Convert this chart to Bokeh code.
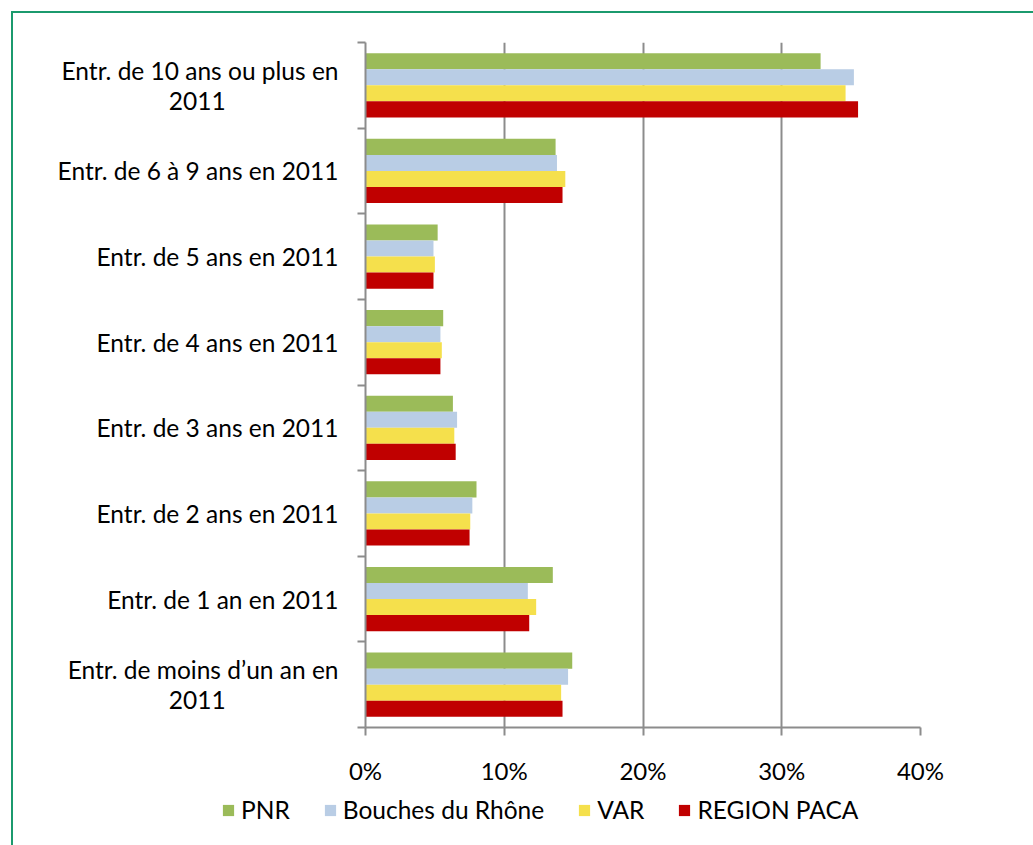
from bokeh.plotting import figure
from bokeh.layouts import column
from bokeh.models import ColumnDataSource, FixedTicker, Legend, LegendItem
from bokeh.transform import dodge
from bokeh.embed import file_html
from bokeh.resources import INLINE

NBSP = "\u00a0"

# Categories, listed from top to bottom as drawn (the long ones wrap onto two lines)
categories = [
    ("Entr. de 10 ans ou plus en", "2011"),
    ("Entr. de 6 à 9 ans en 2011",),
    ("Entr. de 5 ans en 2011",),
    ("Entr. de 4 ans en 2011",),
    ("Entr. de 3 ans en 2011",),
    ("Entr. de 2 ans en 2011",),
    ("Entr. de 1 an en 2011",),
    ("Entr. de moins d’un an en", "2011"),
]

# Share of households (%) by moving-in period
pnr = [32.8, 13.7, 5.2, 5.6, 6.3, 8.0, 13.5, 14.9]
bouches_du_rhone = [35.2, 13.8, 4.9, 5.4, 6.6, 7.7, 11.7, 14.6]
var = [34.6, 14.4, 5.0, 5.5, 6.4, 7.55, 12.3, 14.1]
region_paca = [35.5, 14.2, 4.9, 5.4, 6.5, 7.5, 11.8, 14.2]

series_names = ["PNR", "Bouches du Rhône", "VAR", "REGION PACA"]
series_values = [pnr, bouches_du_rhone, var, region_paca]
series_colors = ["#9BBB59", "#B9CDE5", "#F5E04C", "#C00000"]

x_ticks = [0, 10, 20, 30, 40]
x_tick_labels = ["0%", "10%", "20%", "30%", "40%"]

FONT = "Lato"
FONT_SIZE = "24.5px"
GRID = "#8C8C8C"
FRAME_GREEN = "#1B9A6D"
WRAP_PAD = 18  # non-breaking spaces that centre a wrapped line under the first one


def wrap_label(lines):
    """Join label lines; the continuation line is padded so it sits centred
    under the first line while the axis right-aligns the block."""
    if len(lines) == 1:
        return lines[0]
    first, second = lines
    return first + "\n" + second + NBSP * WRAP_PAD


n = len(categories)
ypos = [n - 1 - i + 0.5 for i in range(n)]

src = ColumnDataSource(dict(
    y=ypos,
    **{f"s{k}": vals for k, vals in enumerate(series_values)},
))

# ---- main chart -------------------------------------------------------------
p = figure(
    width=1020, height=774,
    x_range=(0, 40), y_range=(0, n),
    output_backend="svg", toolbar_location=None,
    min_border_left=352, min_border_top=29,
    min_border_right=113, min_border_bottom=60,
)
p.outline_line_color = None
p.background_fill_color = "white"
p.border_fill_color = "white"

bar_h = 0.75 / 4
offsets = [1.5 * bar_h, 0.5 * bar_h, -0.5 * bar_h, -1.5 * bar_h]
for k, color in enumerate(series_colors):
    p.hbar(y=dodge("y", offsets[k], range=p.y_range), left=0, right=f"s{k}",
           height=bar_h, source=src, fill_color=color, line_color=None)

# x axis: percentages
p.xaxis.ticker = FixedTicker(ticks=x_ticks)
p.xaxis.major_label_overrides = {t: lab for t, lab in zip(x_ticks, x_tick_labels)}
p.xaxis.axis_line_color = GRID
p.xaxis.axis_line_width = 2
p.xaxis.major_tick_line_color = GRID
p.xaxis.major_tick_line_width = 2
p.xaxis.major_tick_out = 8
p.xaxis.major_tick_in = 0
p.xaxis.minor_tick_line_color = None
p.xaxis.major_label_standoff = 20
p.xaxis.major_label_text_font = FONT
p.xaxis.major_label_text_font_size = "24px"
p.xaxis.major_label_text_color = "black"

p.xgrid.ticker = FixedTicker(ticks=x_ticks[1:])
p.xgrid.grid_line_color = GRID
p.xgrid.grid_line_width = 2
p.ygrid.grid_line_color = None

# y axis: category names at the centres, ticks at the boundaries
p.yaxis.ticker = FixedTicker(ticks=ypos, minor_ticks=list(range(n + 1)))
p.yaxis.major_label_overrides = {y: wrap_label(c) for y, c in zip(ypos, categories)}
p.yaxis.axis_line_color = GRID
p.yaxis.axis_line_width = 2
p.yaxis.major_tick_line_color = None
p.yaxis.minor_tick_line_color = GRID
p.yaxis.minor_tick_line_width = 2
p.yaxis.minor_tick_out = 8
p.yaxis.minor_tick_in = 0
p.yaxis.major_label_standoff = 19
p.yaxis.major_label_text_font = FONT
p.yaxis.major_label_text_font_size = FONT_SIZE
p.yaxis.major_label_text_line_height = 1.04
p.yaxis.major_label_text_color = "black"

# ---- legend strip underneath ------------------------------------------------
# The strip's ranges sit away from the data, so its bars only serve as legend keys.
lf = figure(
    width=1020, height=58, x_range=(0, 1), y_range=(100, 101),
    output_backend="svg", toolbar_location=None,
    x_axis_type=None, y_axis_type=None,
    min_border=0,
)
if "frame_align" in lf.properties():
    lf.frame_align = False
lf.outline_line_color = None
lf.grid.visible = False
keys = [lf.hbar(y="y", left=0, right=f"s{k}", height=bar_h, source=src,
                fill_color=c, line_color=None)
        for k, c in enumerate(series_colors)]
legend = Legend(
    items=[LegendItem(label=nm, renderers=[r]) for nm, r in zip(series_names, keys)],
    orientation="horizontal", location=(208, 21),
    glyph_width=14, glyph_height=14, label_standoff=6, spacing=33,
    label_text_font=FONT, label_text_font_size=FONT_SIZE, label_text_color="black",
    border_line_color=None, background_fill_alpha=0, padding=0, margin=0,
)
lf.add_layout(legend, "center")

page = column(
    p, lf, spacing=0,
    margin=(11, 0, 0, 11),
    styles={"border-left": f"2px solid {FRAME_GREEN}", "border-top": f"2px solid {FRAME_GREEN}"},
)

open("out.html", "w").write(file_html(page, INLINE))
